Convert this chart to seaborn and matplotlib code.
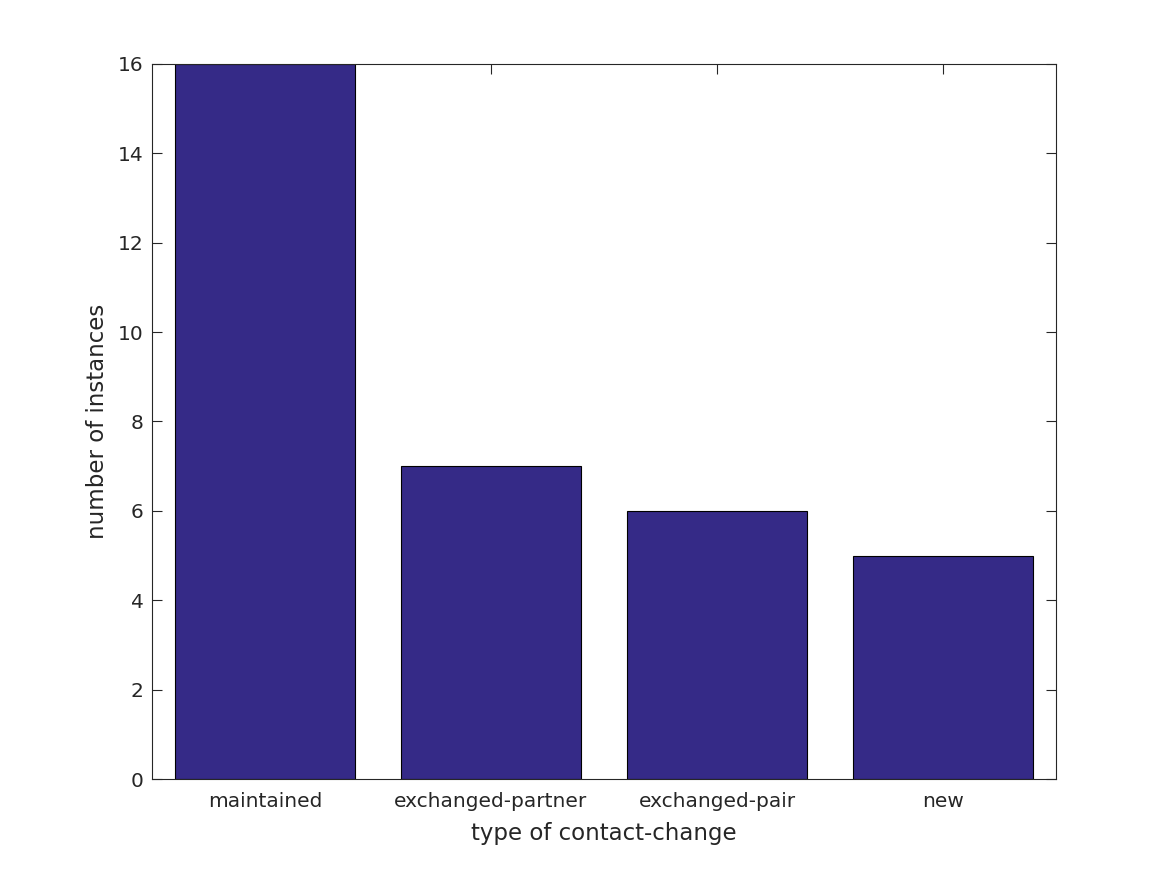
import pandas as pd
import seaborn as sns
import matplotlib
matplotlib.use("Agg")
import matplotlib.pyplot as plt

categories = ["maintained", "exchanged-partner", "exchanged-pair", "new"]
counts = [16, 7, 6, 5]

sns.set_style("white")
plt.rcParams['font.family'] = ['DejaVu Sans']

df = pd.DataFrame({"type": categories, "count": counts})

fig = plt.figure(figsize=(11.67, 8.75), dpi=100)
ax = fig.add_axes([0.1302, 0.1097, 0.7747, 0.8172])

sns.barplot(data=df, x="type", y="count", color="#352a87", saturation=1,
            width=0.8, edgecolor="black", linewidth=0.8, ax=ax)

ax.set_xlim(-0.5, 3.5)
ax.set_ylim(0, 16)
ax.set_yticks(range(0, 17, 2))
ax.set_xlabel("type of contact-change", fontsize=16.5, color="#262626", labelpad=8)
ax.set_ylabel("number of instances", fontsize=16.5, color="#262626", labelpad=6.5)
ax.tick_params(direction="in", length=7, width=0.8, colors="#262626",
               labelsize=14.5, top=True, right=True, bottom=True, left=True)
ax.tick_params(axis="x", pad=9)
ax.tick_params(axis="y", pad=6)
for s in ax.spines.values():
    s.set_visible(True)
    s.set_color("#262626")
    s.set_linewidth(0.8)

fig.savefig("out.png", dpi=100)
plt.close(fig)
